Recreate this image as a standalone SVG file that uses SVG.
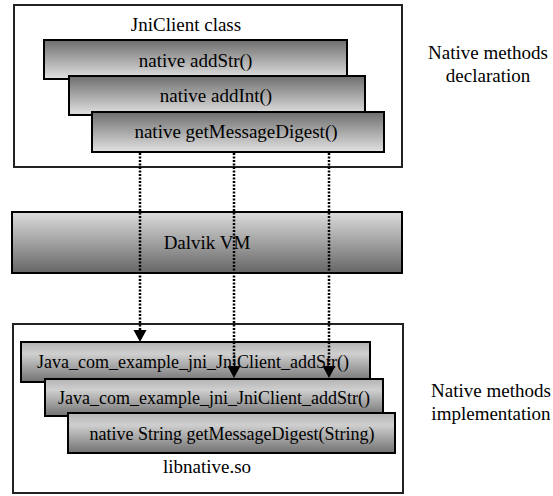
<svg xmlns="http://www.w3.org/2000/svg" width="553" height="496" viewBox="0 0 553 496">
<defs>
<linearGradient id="gTop" x1="0" y1="0" x2="0" y2="1">
<stop offset="0" stop-color="#6e6e6e"/><stop offset="1" stop-color="#e2e2e2"/>
</linearGradient>
<linearGradient id="gVM" x1="0" y1="0" x2="0" y2="1">
<stop offset="0" stop-color="#dcdcdc"/><stop offset="1" stop-color="#666666"/>
</linearGradient>
<linearGradient id="gLow" x1="0" y1="0" x2="0" y2="1">
<stop offset="0" stop-color="#b4b4b4"/><stop offset="0.3" stop-color="#cfcfcf"/><stop offset="1" stop-color="#727272"/>
</linearGradient>
</defs>
<style>
text{font-family:"Liberation Serif","Times New Roman",serif;font-size:19px;fill:#000}
.s{font-size:18px}
.c{text-anchor:middle}
.outer{fill:#fff;stroke:#222;stroke-width:2}
.bt{fill:url(#gTop);stroke:#000;stroke-width:2}
.bl{fill:url(#gLow);stroke:#000;stroke-width:2}
.vm{fill:url(#gVM);stroke:#000;stroke-width:2}
.dot{fill:none;stroke:#000;stroke-width:2.5;stroke-dasharray:2 1.5}
</style>
<g id="jniclient">
<rect class="outer" x="14" y="5" width="388" height="162"/>
<text class="c" x="186" y="31">JniClient class</text>
</g>
<g id="decl-addStr">
<rect class="bt" x="44" y="40" width="303" height="39"/>
<text class="c" x="195.5" y="67">native addStr()</text>
</g>
<g id="decl-addInt">
<rect class="bt" x="69" y="76" width="296" height="39"/>
<text class="c" x="216" y="102">native addInt()</text>
</g>
<g id="decl-getMessageDigest">
<rect class="bt" x="92" y="112" width="292" height="40"/>
<text class="c" x="236" y="138">native getMessageDigest()</text>
</g>
<g id="label-decl">
<text class="c" x="488" y="59">Native methods</text>
<text class="c" x="488" y="82">declaration</text>
</g>
<g id="dalvik">
<rect class="vm" x="12" y="212" width="390" height="61"/>
<text class="c" x="207" y="249">Dalvik VM</text>
</g>
<g id="libnative">
<rect class="outer" x="13" y="324" width="390" height="169"/>
<text class="c" x="207" y="473">libnative.so</text>
</g>
<g id="impl-addStr">
<rect class="bl" x="21" y="342" width="349" height="40"/>
<text class="c s" x="193" y="368">Java_com_example_jni_JniClient_addStr()</text>
</g>
<g id="impl-addInt">
<rect class="bl" x="45" y="379" width="338" height="37"/>
<text class="c s" x="214" y="404">Java_com_example_jni_JniClient_addStr()</text>
</g>
<g id="impl-getMessageDigest">
<rect class="bl" x="68" y="413" width="327" height="40"/>
<text class="c s" x="232" y="440">native String getMessageDigest(String)</text>
</g>
<g id="label-impl">
<text class="c" x="491" y="397">Native methods</text>
<text class="c" x="491" y="420">implementation</text>
</g>
<g id="connectors">
<line class="dot" x1="140" y1="153" x2="140" y2="331"/>
<path d="M133.5,330 L146.5,330 L140,342 Z" fill="#000"/>
<line class="dot" x1="234" y1="153" x2="234" y2="367"/>
<path d="M227.5,366 L240.5,366 L234,378 Z" fill="#000"/>
<line class="dot" x1="329" y1="153" x2="329" y2="367"/>
<path d="M322.5,366 L335.5,366 L329,378 Z" fill="#000"/>
</g>
</svg>
